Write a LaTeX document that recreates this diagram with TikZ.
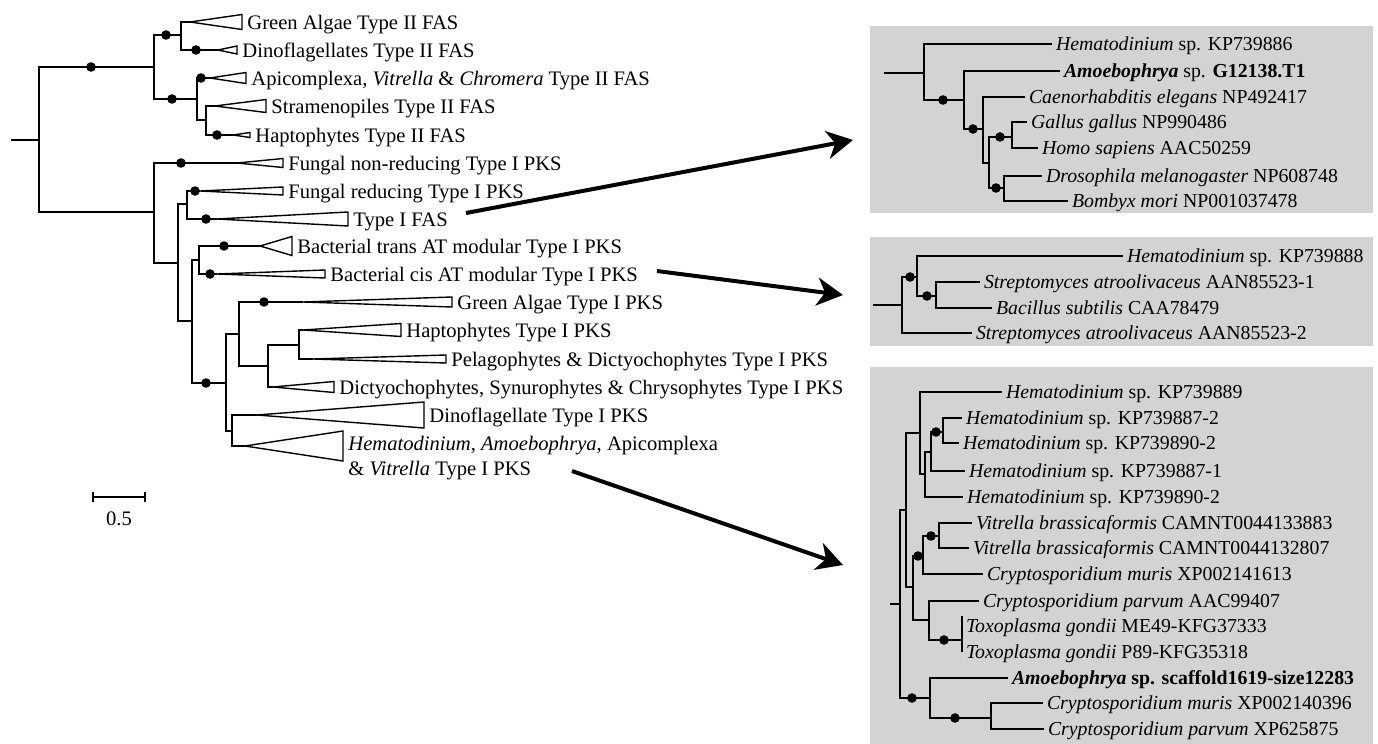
\documentclass[tikz,border=0pt]{standalone}
\usepackage{fontspec}
\setmainfont{Liberation Serif}
\usetikzlibrary{arrows.meta}
\definecolor{panel}{HTML}{D3D3D3}
\tikzset{
  br/.style   ={line width=0.9pt},
  clade/.style={line width=0.7pt, line join=miter},
  dot/.style  ={circle, fill=black, inner sep=0pt, minimum size=4.8pt},
  lab/.style  ={anchor=west, inner xsep=2.5pt, inner ysep=0pt, text height=7pt, text depth=0pt,
                font=\fontsize{10.3}{12}\selectfont},
  rlab/.style ={lab, inner xsep=1.8pt, text height=6.7pt, font=\fontsize{9.9}{12}\selectfont},
  big/.style  ={-{Stealth[length=13pt, width=14pt, inset=4pt]}, line width=2pt},
}

\begin{document}
\begin{tikzpicture}[x=0.5pt,y=-0.5pt]
\useasboundingbox (0,0) rectangle (1378,744);
\fill[panel] (870,26) rectangle (1373,213);
\fill[panel] (870,237) rectangle (1373,346);
\fill[panel] (870,367) rectangle (1373,744);

% main tree
\coordinate (root) at (39,140);
\coordinate (nA) at (154,67);
\coordinate (nB) at (181,35);
\coordinate (nC) at (197,99);
\coordinate (nD) at (206,120);
\coordinate (nE) at (154,212);
\coordinate (nF) at (178,263);
\coordinate (nG) at (187,204);
\coordinate (nH) at (192,321);
\coordinate (nI) at (199,260);
\coordinate (nJ) at (226,383);
\coordinate (nK) at (239,334);
\coordinate (nL) at (268,366);
\coordinate (nM) at (299,345);
\coordinate (nN) at (232,431);
\coordinate (lGA2) at (190,22);
\coordinate (lDn2) at (218,50);
\coordinate (lAp2) at (210,78);
\coordinate (lSt2) at (215,106);
\coordinate (lHp2) at (233,135);
\coordinate (lFNR) at (237,163);
\coordinate (lFR) at (200,191);
\coordinate (lFAS) at (217,219);
\coordinate (lBt) at (260,246);
\coordinate (lBc) at (217,274);
\coordinate (lGA1) at (303,302);
\coordinate (lHp1) at (303,330);
\coordinate (lPel) at (313,359);
\coordinate (lDic) at (273,387);
\coordinate (lDn1) at (257,415);
\coordinate (lHem) at (245,446);

\draw[br] (11,140) -- (root);
\draw[br] (root) |- (nA);
\draw[br] (root) |- (nE);
\draw[br] (nA) |- (nB);
\draw[br] (nA) |- (nC);
\draw[br] (nB) |- (lGA2);
\draw[br] (nB) |- (lDn2);
\draw[br] (nC) |- (lAp2);
\draw[br] (nC) |- (nD);
\draw[br] (nD) |- (lSt2);
\draw[br] (nD) |- (lHp2);
\draw[br] (nE) |- (lFNR);
\draw[br] (nE) |- (nF);
\draw[br] (nF) |- (nG);
\draw[br] (nF) |- (nH);
\draw[br] (nG) |- (lFR);
\draw[br] (nG) |- (lFAS);
\draw[br] (nH) |- (nI);
\draw[br] (nH) |- (nJ);
\draw[br] (nI) |- (lBt);
\draw[br] (nI) |- (lBc);
\draw[br] (nJ) |- (nK);
\draw[br] (nJ) |- (nN);
\draw[br] (nK) |- (lGA1);
\draw[br] (nK) |- (nL);
\draw[br] (nL) |- (nM);
\draw[br] (nL) |- (lDic);
\draw[br] (nM) |- (lHp1);
\draw[br] (nM) |- (lPel);
\draw[br] (nN) |- (lDn1);
\draw[br] (nN) |- (lHem);

\draw[clade] (lGA2) -- (242,14.5) -- (242,29.5) -- cycle;
\draw[clade] (lDn2) -- (237,46) -- (237,54) -- cycle;
\draw[clade] (lAp2) -- (246,72.5) -- (246,83.5) -- cycle;
\draw[clade] (lSt2) -- (266,99.5) -- (266,112.5) -- cycle;
\draw[clade] (lHp2) -- (250,132.5) -- (250,137.5) -- cycle;
\draw[clade] (lFNR) -- (283,158.5) -- (283,167.5) -- cycle;
\draw[clade] (lFR) -- (283,187) -- (283,195) -- cycle;
\draw[clade] (lFAS) -- (348,212) -- (348,226) -- cycle;
\draw[clade] (lBt) -- (292,236.5) -- (292,255.5) -- cycle;
\draw[clade] (lBc) -- (325,270) -- (325,278) -- cycle;
\draw[clade] (lGA1) -- (452,297) -- (452,307) -- cycle;
\draw[clade] (lHp1) -- (401,323.5) -- (401,336.5) -- cycle;
\draw[clade] (lPel) -- (446,355) -- (446,363) -- cycle;
\draw[clade] (lDic) -- (334,381.5) -- (334,392.5) -- cycle;
\draw[clade] (lDn1) -- (424,402) -- (424,428) -- cycle;
\draw[clade] (lHem) -- (343,431) -- (343,461) -- cycle;

\node[dot] (d1) at (91,67) {};
\node[dot] (d2) at (166,35) {};
\node[dot] (d3) at (196,50) {};
\node[dot] (d4) at (172,99) {};
\node[dot] (d5) at (201,78) {};
\node[dot] (d6) at (217,135) {};
\node[dot] (d7) at (181,163) {};
\node[dot] (d8) at (195,191) {};
\node[dot] (d9) at (206,219) {};
\node[dot] (d10) at (224,246) {};
\node[dot] (d11) at (210,274) {};
\node[dot] (d12) at (264,302) {};
\node[dot] (d13) at (206,383) {};

\node[lab] (tGA2) at (242,22) {Green Algae Type II FAS};
\node[lab] (tDn2) at (237,50) {Dinoflagellates Type II FAS};
\node[lab] (tAp2) at (246,78) {Apicomplexa, \textit{Vitrella} \& \textit{Chromera} Type II FAS};
\node[lab] (tSt2) at (266,106) {Stramenopiles Type II FAS};
\node[lab] (tHp2) at (250,135) {Haptophytes Type II FAS};
\node[lab] (tFNR) at (283,163) {Fungal non-reducing Type I PKS};
\node[lab] (tFR) at (283,191) {Fungal reducing Type I PKS};
\node[lab] (tFAS) at (348,219) {Type I FAS};
\node[lab] (tBt) at (292,246) {Bacterial trans AT modular Type I PKS};
\node[lab] (tBc) at (325,274) {Bacterial cis AT modular Type I PKS};
\node[lab] (tGA1) at (452,302) {Green Algae Type I PKS};
\node[lab] (tHp1) at (401,330) {Haptophytes Type I PKS};
\node[lab] (tPel) at (446,359) {Pelagophytes \& Dictyochophytes Type I PKS};
\node[lab] (tDic) at (334,387) {Dictyochophytes, Synurophytes \& Chrysophytes Type I PKS};
\node[lab] (tDn1) at (424,415) {Dinoflagellate Type I PKS};
\node[lab] (tHemA) at (343,443) {\textit{Hematodinium}, \textit{Amoebophrya}, Apicomplexa};
\node[lab] (tHemB) at (343,468) {\& \textit{Vitrella} Type I PKS};

% scale bar
\coordinate (sbL) at (93,497);
\coordinate (sbR) at (145,497);
\draw[br] (sbL) -- (sbR);
\draw[br] ([yshift=-2.5pt]sbL) -- ([yshift=2.5pt]sbL);
\draw[br] ([yshift=-2.5pt]sbR) -- ([yshift=2.5pt]sbR);
\node[font=\fontsize{10.3}{12}\selectfont, inner sep=0pt] (sbT) at (119,519) {0.5};

% panel 1
\coordinate (p1) at (924,73);
\coordinate (q1) at (964,100);
\coordinate (q2) at (983,129);
\coordinate (q3) at (989,163);
\coordinate (q4) at (1012,137);
\coordinate (q5) at (1004,188);
\coordinate (h86) at (1052,44);
\coordinate (amo1) at (1060,71);
\coordinate (cel) at (1025,97);
\coordinate (gal) at (1027,122);
\coordinate (hom) at (1038,148);
\coordinate (dro) at (1042,176);
\coordinate (bom) at (1068,201);
\draw[br] (884,73) -- (p1);
\draw[br] (p1) |- (h86);
\draw[br] (p1) |- (q1);
\draw[br] (q1) |- (amo1);
\draw[br] (q1) |- (q2);
\draw[br] (q2) |- (cel);
\draw[br] (q2) |- (q3);
\draw[br] (q3) |- (q4);
\draw[br] (q3) |- (q5);
\draw[br] (q4) |- (gal);
\draw[br] (q4) |- (hom);
\draw[br] (q5) |- (dro);
\draw[br] (q5) |- (bom);
\node[dot] (e1) at (943,100) {};
\node[dot] (e2) at (973,129) {};
\node[dot] (e3) at (1000,137) {};
\node[dot] (e4) at (996,188) {};
\node[rlab] (th86) at (h86) {\textit{Hematodinium} sp. KP739886};
\node[rlab] (tamo1) at (amo1) {\textbf{\textit{Amoebophrya}} sp. \textbf{G12138.T1}};
\node[rlab] (tcel) at (cel) {\textit{Caenorhabditis elegans} NP492417};
\node[rlab] (tgal) at (gal) {\textit{Gallus gallus} NP990486};
\node[rlab] (thom) at (hom) {\textit{Homo sapiens} AAC50259};
\node[rlab] (tdro) at (dro) {\textit{Drosophila melanogaster} NP608748};
\node[rlab] (tbom) at (bom) {\textit{Bombyx mori} NP001037478};

% panel 2
\coordinate (p2) at (902,305);
\coordinate (s1) at (917,277);
\coordinate (s2) at (936,296);
\coordinate (h88) at (1123,256);
\coordinate (sa1) at (980,282);
\coordinate (bsu) at (992,308);
\coordinate (sa2) at (972,333);
\draw[br] (873,305) -- (p2);
\draw[br] (p2) |- (s1);
\draw[br] (p2) |- (sa2);
\draw[br] (s1) |- (h88);
\draw[br] (s1) |- (s2);
\draw[br] (s2) |- (sa1);
\draw[br] (s2) |- (bsu);
\node[dot] (e5) at (910,277) {};
\node[dot] (e6) at (927,296) {};
\node[rlab] (th88) at (h88) {\textit{Hematodinium} sp. KP739888};
\node[rlab] (tsa1) at (sa1) {\textit{Streptomyces atroolivaceus} AAN85523-1};
\node[rlab] (tbsu) at (bsu) {\textit{Bacillus subtilis} CAA78479};
\node[rlab] (tsa2) at (sa2) {\textit{Streptomyces atroolivaceus} AAN85523-2};

% panel 3
\coordinate (p3) at (900,604);
\coordinate (t1) at (906,510);
\coordinate (t2) at (920,433);
\coordinate (t3) at (925,474);
\coordinate (t4) at (931,452);
\coordinate (t5) at (943,432);
\coordinate (t6) at (913,587);
\coordinate (t7) at (923,556);
\coordinate (t8) at (939,536);
\coordinate (t9) at (929,620);
\coordinate (t10) at (962,640);
\coordinate (t11) at (930,698);
\coordinate (t12) at (991,718);
\coordinate (h89) at (1002,392);
\coordinate (h87b) at (962,418);
\coordinate (h90b) at (959,443);
\coordinate (h87a) at (965,471);
\coordinate (h90a) at (963,497);
\coordinate (vb1) at (972,523);
\coordinate (vb2) at (969,548);
\coordinate (cm1) at (983,574);
\coordinate (cp1) at (979,601);
\coordinate (tg1) at (962,626);
\coordinate (tg2) at (962,652);
\coordinate (amo2) at (1008,678);
\coordinate (cm2) at (1043,703);
\coordinate (cp2) at (1044,729);
\draw[br] (890,604) -- (p3);
\draw[br] (p3) |- (t1);
\draw[br] (p3) |- (t11);
\draw[br] (t1) |- (t2);
\draw[br] (t1) |- (t6);
\draw[br] (t2) |- (h89);
\draw[br] (t2) |- (t3);
\draw[br] (t3) |- (t4);
\draw[br] (t3) |- (h90a);
\draw[br] (t4) |- (t5);
\draw[br] (t4) |- (h87a);
\draw[br] (t5) |- (h87b);
\draw[br] (t5) |- (h90b);
\draw[br] (t6) |- (t7);
\draw[br] (t6) |- (t9);
\draw[br] (t7) |- (t8);
\draw[br] (t7) |- (cm1);
\draw[br] (t8) |- (vb1);
\draw[br] (t8) |- (vb2);
\draw[br] (t9) |- (cp1);
\draw[br] (t9) |- (t10);
\draw[br] ([yshift=5pt]tg1) -- (tg2);
\draw[br] (t11) |- (amo2);
\draw[br] (t11) |- (t12);
\draw[br] (t12) |- (cm2);
\draw[br] (t12) |- (cp2);
\node[dot] (e7) at (936,432) {};
\node[dot] (e8) at (918,556) {};
\node[dot] (e9) at (931,536) {};
\node[dot] (e10) at (944,640) {};
\node[dot] (e11) at (912,698) {};
\node[dot] (e12) at (955,718) {};
\node[rlab] (th89) at (h89) {\textit{Hematodinium} sp. KP739889};
\node[rlab] (th87b) at (h87b) {\textit{Hematodinium} sp. KP739887-2};
\node[rlab] (th90b) at (h90b) {\textit{Hematodinium} sp. KP739890-2};
\node[rlab] (th87a) at (h87a) {\textit{Hematodinium} sp. KP739887-1};
\node[rlab] (th90a) at (h90a) {\textit{Hematodinium} sp. KP739890-2};
\node[rlab] (tvb1) at (vb1) {\textit{Vitrella brassicaformis} CAMNT0044133883};
\node[rlab] (tvb2) at (vb2) {\textit{Vitrella brassicaformis} CAMNT0044132807};
\node[rlab] (tcm1) at (cm1) {\textit{Cryptosporidium muris} XP002141613};
\node[rlab] (tcp1) at (cp1) {\textit{Cryptosporidium parvum} AAC99407};
\node[rlab] (ttg1) at (tg1) {\textit{Toxoplasma gondii} ME49-KFG37333};
\node[rlab] (ttg2) at (tg2) {\textit{Toxoplasma gondii} P89-KFG35318};
\node[rlab] (tamo2) at (amo2) {\textbf{\textit{Amoebophrya} sp. scaffold1619-size12283}};
\node[rlab] (tcm2) at (cm2) {\textit{Cryptosporidium muris} XP002140396};
\node[rlab] (tcp2) at (cp2) {\textit{Cryptosporidium parvum} XP625875};

% arrows to the panels
\coordinate (a1) at (853,140);
\coordinate (a2) at (843,295);
\coordinate (a3) at (843,565);
\draw[big] (466,213) -- (a1);
\draw[big] (657,271) -- (a2);
\draw[big] (572,471) -- (a3);
\end{tikzpicture}
\end{document}
